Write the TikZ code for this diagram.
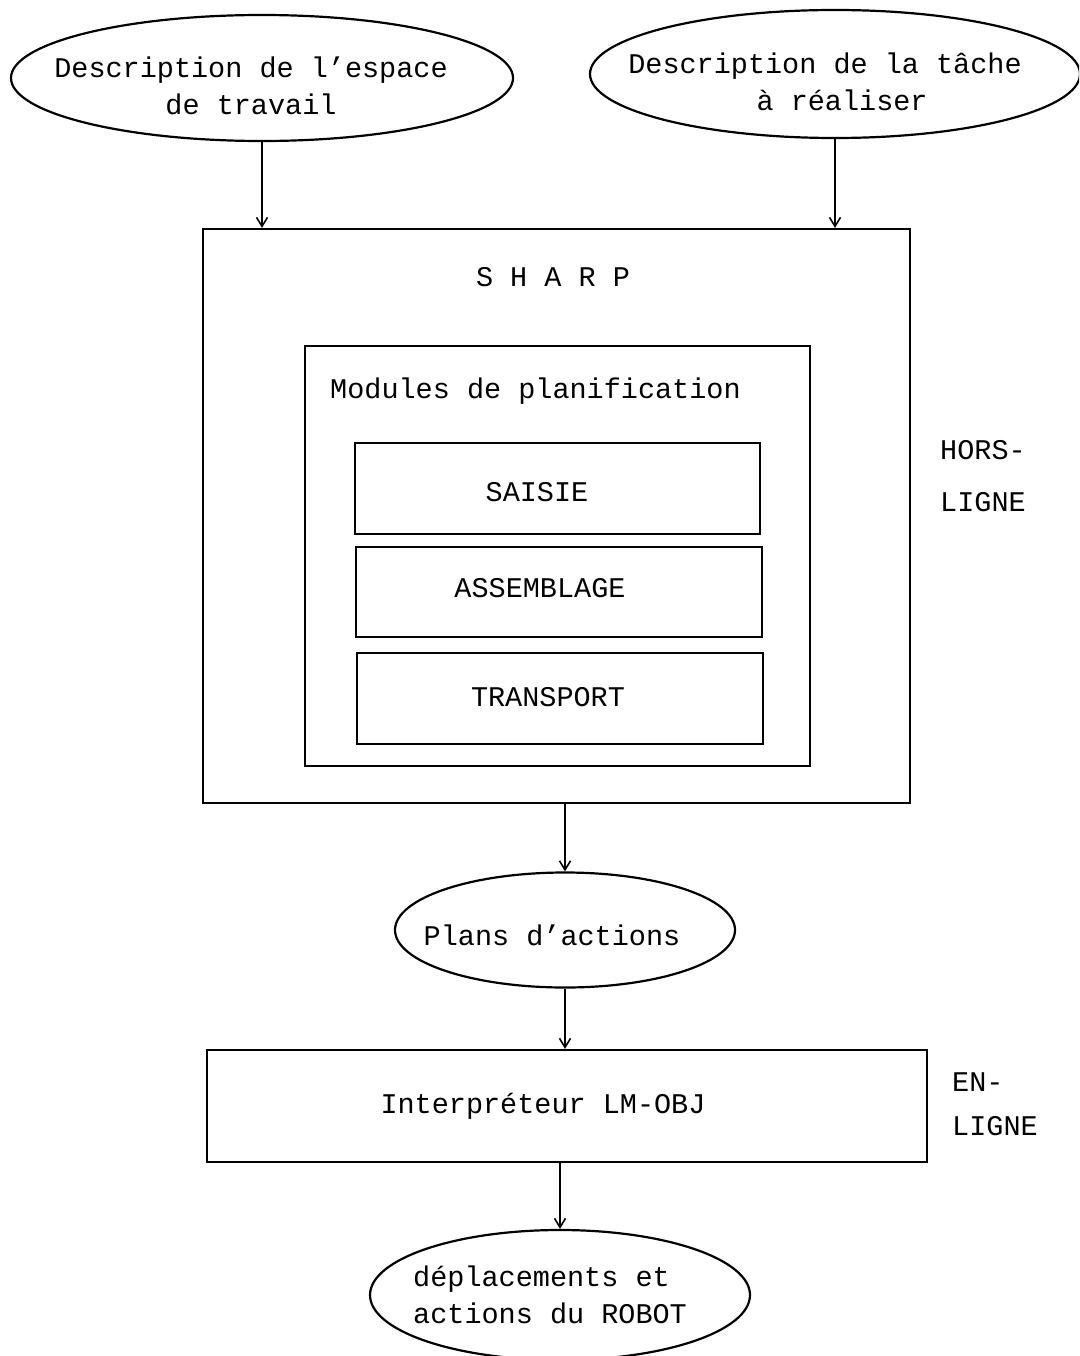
\documentclass[tikz,border=0pt]{standalone}
\usepackage{fontspec}
\setmainfont{Liberation Mono}
\usetikzlibrary{shapes.geometric,arrows.meta}
\begin{document}
\begin{tikzpicture}[x=1pt,y=-1pt,
  every node/.style={font=\fontsize{28.5}{37}\selectfont, inner sep=0pt},
  oval/.style={draw, ellipse, line width=2.2pt},
  frame/.style={draw, rectangle, line width=2.2pt},
  flow/.style={line width=2pt, -{Straight Barb[length=9pt,width=11pt,line width=1.6pt]}}]
\useasboundingbox (0,0) rectangle (1079,1356);
\clip (0,0) rectangle (1079,1356);

% inputs
\node[oval, minimum width=502, minimum height=126] (espace) at (262,78) {};
\node[align=center] (espacetxt) at (251,86) {Description de l'espace\\de travail};
\node[oval, minimum width=490, minimum height=128] (tache) at (835,74) {};
\node[align=center] (tachetxt) at (825,82) {Description de la tâche\\\hspace*{1.2em}à réaliser};

% off-line planner
\node[frame, minimum width=707, minimum height=574] (sharp) at (556.5,516) {};
\node (sharptitle) at (553,277) {S H A R P};
\node[frame, minimum width=505, minimum height=420] (modules) at (557.5,556) {};
\node[anchor=west] (modtitle) at (330,391) {Modules de planification};
\node[frame, minimum width=405, minimum height=91] (saisie) at (557.5,488.5) {};
\node (saisietxt) at (537,492) {SAISIE};
\node[frame, minimum width=406, minimum height=90] (assemblage) at (559,592) {};
\node (assemblagetxt) at (540,588) {ASSEMBLAGE};
\node[frame, minimum width=406, minimum height=91] (transport) at (560,698.5) {};
\node (transporttxt) at (548,697) {TRANSPORT};
\node[anchor=west, align=left] (hors) at (940,476) {HORS-\\[15pt]LIGNE};

% plans
\node[oval, minimum width=340, minimum height=115] (plans) at (565,930) {};
\node (planstxt) at (552,935) {Plans d'actions};

% on-line interpreter
\node[frame, minimum width=720, minimum height=112] (interp) at (567,1106) {};
\node (interptxt) at (543,1106) {Interpréteur LM-OBJ};
\node[anchor=west, align=left] (en) at (952,1104) {EN-\\[7pt]LIGNE};

% robot
\node[oval, minimum width=380, minimum height=130] (robot) at (560,1295) {};
\node[anchor=west, align=left] (robottxt) at (413,1295) {déplacements et\\actions du ROBOT};

% connectors
\draw[flow] (espace.south) -- (espace.south |- sharp.north);
\draw[flow] (tache.south) -- (tache.south |- sharp.north);
\draw[flow] (plans.north |- sharp.south) -- (plans.north);
\draw[flow] (plans.south) -- (plans.south |- interp.north);
\draw[flow] (robot.north |- interp.south) -- (robot.north);
\end{tikzpicture}
\end{document}
